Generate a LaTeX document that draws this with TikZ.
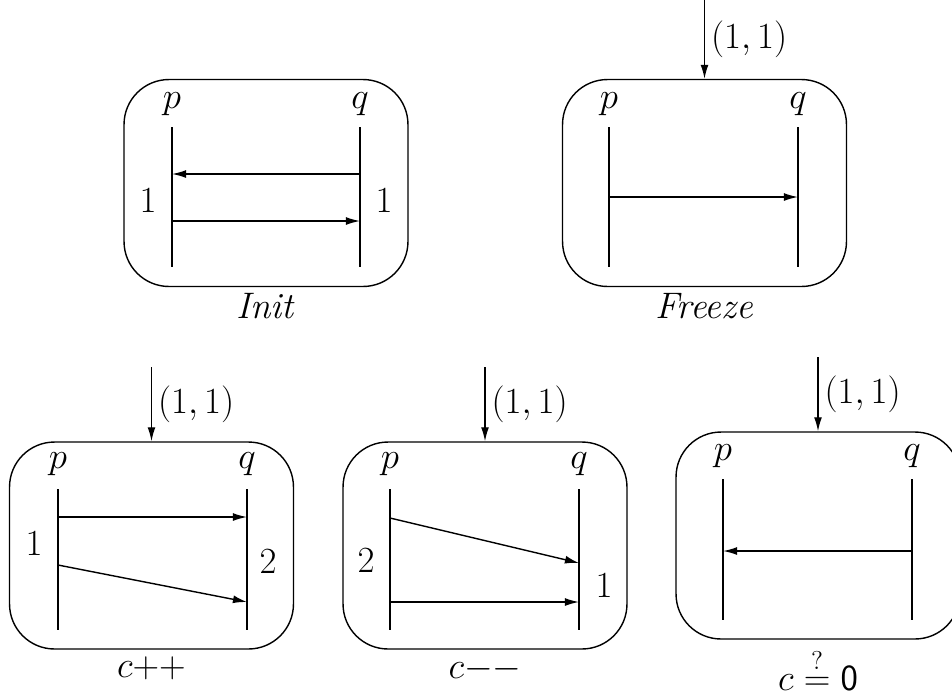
\documentclass[tikz,border=0pt]{standalone}
\usepackage{fix-cm}
\usepackage{amsmath}
\usepackage{tikz}
\usetikzlibrary{arrows.meta}
\tikzset{
  frame/.style={draw, line width=0.8pt, rounded corners=0.9cm, minimum width=5.68cm, minimum height=4.14cm},
  msg/.style={line width=0.8pt, -{Latex[length=8pt, width=4.5pt]}},
  life/.style={line width=0.8pt},
  lbl/.style={anchor=base, inner sep=0pt},
}

\begin{document}
\begin{tikzpicture}[x=0.02cm, y=-0.02cm, font=\fontsize{21}{25}\selectfont]
    \clip (0,0) rectangle (952,697);
    % Init
    \node[frame] (init) at (266,183) {};
    \node[lbl] (initp) at (172,108) {$p$};
    \node[lbl] (initq) at (360,108) {$q$};
    \coordinate (initpa) at (172,127); \coordinate (initpz) at (172,267);
    \coordinate (initqa) at (360,127); \coordinate (initqz) at (360,267);
    \draw[life] (initpa) -- (initpz);
    \draw[life] (initqa) -- (initqz);
    \coordinate (initm1) at (360,174); \coordinate (initm2) at (172,174);
    \coordinate (initm3) at (172,221); \coordinate (initm4) at (360,221);
    \draw[msg] (initm1) -- (initm2);
    \draw[msg] (initm3) -- (initm4);
    \node[lbl] (initcp) at (148,212) {$1$};
    \node[lbl] (initcq) at (384,212) {$1$};
    \node[lbl] (initname) at (266,318) {\textit{Init}};

    % Freeze
    \node[frame] (freeze) at (704.5,183) {};
    \node[lbl] (freezep) at (609,108) {$p$};
    \node[lbl] (freezeq) at (798,108) {$q$};
    \coordinate (freezepa) at (609,127); \coordinate (freezepz) at (609,267);
    \coordinate (freezeqa) at (798,127); \coordinate (freezeqz) at (798,267);
    \draw[life] (freezepa) -- (freezepz);
    \draw[life] (freezeqa) -- (freezeqz);
    \coordinate (freezem1) at (609,197); \coordinate (freezem2) at (798,197);
    \draw[msg] (freezem1) -- (freezem2);
    \coordinate (freezein) at (704.5,0);
    \draw[msg] (freezein) -- (freeze.north) node[midway, right] (freezetok) {$(1,1)$};
    \node[lbl] (freezename) at (704.5,318) {\textit{Freeze}};

    % c++
    \node[frame] (inc) at (151.5,545.5) {};
    \node[lbl] (incp) at (58,468) {$p$};
    \node[lbl] (incq) at (247,468) {$q$};
    \coordinate (incpa) at (58,489); \coordinate (incpz) at (58,630);
    \coordinate (incqa) at (247,489); \coordinate (incqz) at (247,630);
    \draw[life] (incpa) -- (incpz);
    \draw[life] (incqa) -- (incqz);
    \coordinate (incm1) at (58,517); \coordinate (incm2) at (247,517);
    \coordinate (incm3) at (58,565); \coordinate (incm4) at (247,602);
    \draw[msg] (incm1) -- (incm2);
    \draw[msg] (incm3) -- (incm4);
    \node[lbl] (inccp) at (34,555) {$1$};
    \node[lbl] (inccq) at (268,573) {$2$};
    \coordinate (incin) at (151.5,367);
    \draw[msg] (incin) -- (inc.north) node[midway, right] (inctok) {$(1,1)$};
    \node[lbl] (incname) at (151.5,677) {$c{+}{+}$};

    % c--
    \node[frame] (dec) at (485,545.5) {};
    \node[lbl] (decp) at (390,468) {$p$};
    \node[lbl] (decq) at (579,468) {$q$};
    \coordinate (decpa) at (390,489); \coordinate (decpz) at (390,630);
    \coordinate (decqa) at (579,489); \coordinate (decqz) at (579,630);
    \draw[life] (decpa) -- (decpz);
    \draw[life] (decqa) -- (decqz);
    \coordinate (decm1) at (390,518); \coordinate (decm2) at (579,563);
    \coordinate (decm3) at (390,602); \coordinate (decm4) at (579,602);
    \draw[msg] (decm1) -- (decm2);
    \draw[msg] (decm3) -- (decm4);
    \node[lbl] (deccp) at (366,572) {$2$};
    \node[lbl] (deccq) at (604,597) {$1$};
    \coordinate (decin) at (485,367);
    \draw[msg] (decin) -- (dec.north) node[midway, right] (dectok) {$(1,1)$};
    \node[lbl] (decname) at (485,678) {$c{-}{-}$};

    % c =? 0
    \node[frame] (zero) at (818,535.5) {};
    \node[lbl] (zerop) at (723,460) {$p$};
    \node[lbl] (zeroq) at (912,460) {$q$};
    \coordinate (zeropa) at (723,479); \coordinate (zeropz) at (723,620);
    \coordinate (zeroqa) at (912,479); \coordinate (zeroqz) at (912,620);
    \draw[life] (zeropa) -- (zeropz);
    \draw[life] (zeroqa) -- (zeroqz);
    \coordinate (zerom1) at (912,551); \coordinate (zerom2) at (723,551);
    \draw[msg] (zerom1) -- (zerom2);
    \coordinate (zeroin) at (818,357);
    \draw[msg] (zeroin) -- (zero.north) node[midway, right] (zerotok) {$(1,1)$};
    \node[lbl] (zeroname) at (818,690) {$c \stackrel{?}{=} \mathsf{0}$};
\end{tikzpicture}
\end{document}
